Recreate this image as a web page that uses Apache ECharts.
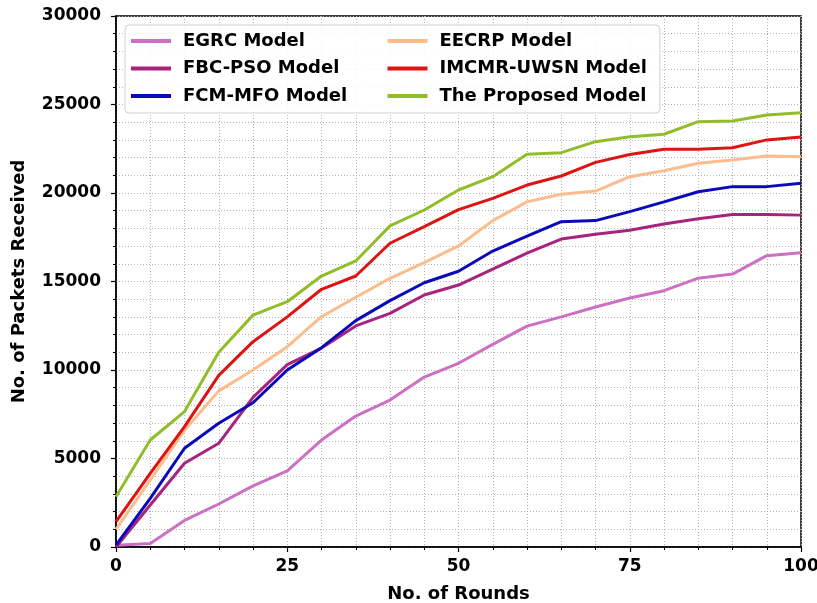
<!DOCTYPE html>
<html>
<head>
<meta charset="utf-8">
<script src="https://cdn.jsdelivr.net/npm/echarts@6/dist/echarts.min.js"></script>
<style>
  html, body { margin: 0; padding: 0; background: #fff; }
  #chart { width: 817px; height: 603px; }
</style>
</head>
<body>
<div id="chart"></div>
<script>
// Rounds sampled every 5 rounds
const rounds = [0, 5, 10, 15, 20, 25, 30, 35, 40, 45, 50, 55, 60, 65, 70, 75, 80, 85, 90, 95, 100];

// Packets received per model
const egrc     = [100, 200, 1500, 2430, 3450, 4300, 6040, 7400, 8300, 9600, 10380, 11450, 12480, 13000, 13560, 14070, 14480, 15190, 15420, 16460, 16630];
const fbcPso   = [0, 2370, 4730, 5860, 8450, 10300, 11240, 12490, 13200, 14240, 14800, 15700, 16600, 17400, 17670, 17900, 18250, 18550, 18780, 18780, 18750];
const fcmMfo   = [100, 2750, 5580, 6990, 8150, 10000, 11260, 12790, 13920, 14930, 15580, 16720, 17570, 18380, 18440, 18950, 19500, 20070, 20360, 20360, 20550];
const eecrp    = [1000, 3790, 6600, 8820, 10000, 11320, 13010, 14110, 15180, 16070, 17010, 18440, 19500, 19930, 20110, 20920, 21260, 21680, 21870, 22090, 22050];
const imcmr    = [1430, 4160, 6800, 9700, 11600, 13000, 14560, 15310, 17160, 18100, 19060, 19700, 20450, 20960, 21730, 22180, 22470, 22470, 22560, 23000, 23170];
const proposed = [2840, 6045, 7650, 11000, 13100, 13860, 15310, 16160, 18140, 19040, 20170, 20920, 22190, 22280, 22900, 23180, 23320, 24030, 24070, 24410, 24540];

const xTicks = [0, 25, 50, 75, 100];
const yTicks = [0, 5000, 10000, 15000, 20000, 25000, 30000];

const seriesDefs = [
  { name: 'EGRC Model',         data: egrc,     color: '#cc70c4' },
  { name: 'FBC-PSO Model',      data: fbcPso,   color: '#a8237e' },
  { name: 'FCM-MFO Model',      data: fcmMfo,   color: '#0a0ab8' },
  { name: 'EECRP Model',        data: eecrp,    color: '#fcbc8c' },
  { name: 'IMCMR-UWSN Model',   data: imcmr,    color: '#dd1414' },
  { name: 'The Proposed Model', data: proposed, color: '#92bd2a' }
];

const font = 'DejaVu Sans';
const gridLine = { show: true, lineStyle: { color: '#b4b4b4', type: [1, 2], width: 1 } };
const labelStyle = { fontFamily: font, fontWeight: 'bold', fontSize: 17, color: '#000' };
const nameStyle = { fontFamily: font, fontWeight: 'bold', fontSize: 18, color: '#000' };

const chart = echarts.init(document.getElementById('chart'), null, { renderer: 'canvas' });

chart.setOption({
  animation: false,
  backgroundColor: '#fff',
  grid: {
    left: 116, right: 16, top: 16, bottom: 56,
    outerBoundsMode: 'none',
    containLabel: false,
    show: true, borderColor: '#000', borderWidth: 1.5, backgroundColor: 'transparent'
  },
  legend: {
    orient: 'vertical',
    left: 125, top: 25,
    height: 80,
    padding: [7, 13, 8, 6],
    itemGap: 9.5,
    itemWidth: 40, itemHeight: 4,
    icon: 'rect',
    backgroundColor: 'rgba(255,255,255,0.85)',
    borderColor: '#d0d0d0', borderWidth: 1, borderRadius: 4,
    textStyle: {
      fontFamily: font, fontWeight: 'bold', fontSize: 18, color: '#000',
      width: 195, lineHeight: 18, padding: [0, 0, 0, 7]
    },
    data: seriesDefs.map(s => s.name)
  },
  xAxis: {
    type: 'value',
    min: xTicks[0], max: xTicks[xTicks.length - 1], interval: 25,
    name: 'No. of Rounds',
    nameLocation: 'middle', nameGap: 38,
    nameTextStyle: nameStyle,
    axisLine: { show: true, onZero: false, lineStyle: { color: '#000', width: 1.5 } },
    axisTick: { show: true, length: 5, lineStyle: { color: '#000', width: 1.2 } },
    minorTick: { show: true, splitNumber: 5, length: 3, lineStyle: { color: '#000', width: 1 } },
    axisLabel: Object.assign({ margin: 11 }, labelStyle),
    splitLine: gridLine,
    minorSplitLine: gridLine
  },
  yAxis: {
    type: 'value',
    min: yTicks[0], max: yTicks[yTicks.length - 1], interval: 5000,
    name: 'No. of Packets Received',
    nameLocation: 'middle', nameGap: 88,
    nameTextStyle: nameStyle,
    axisLine: { show: true, onZero: false, lineStyle: { color: '#000', width: 1.5 } },
    axisTick: { show: true, length: 5, lineStyle: { color: '#000', width: 1.2 } },
    minorTick: { show: true, splitNumber: 5, length: 3, lineStyle: { color: '#000', width: 1 } },
    axisLabel: Object.assign({ margin: 15, formatter: v => String(v) }, labelStyle),
    splitLine: gridLine,
    minorSplitLine: gridLine
  },
  series: seriesDefs.map(s => ({
    name: s.name,
    type: 'line',
    data: rounds.map((r, i) => [r, s.data[i]]),
    showSymbol: false,
    symbol: 'none',
    itemStyle: { color: s.color },
    lineStyle: { color: s.color, width: 3 },
    clip: true
  }))
});
</script>
</body>
</html>
